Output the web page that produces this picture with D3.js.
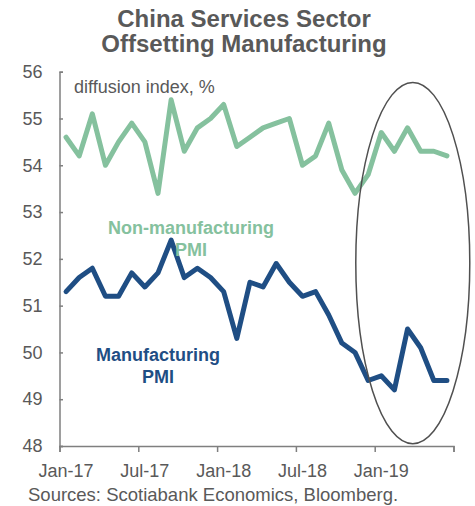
<!DOCTYPE html>
<html>
<head>
<meta charset="utf-8">
<script src="https://cdn.jsdelivr.net/npm/d3@7"></script>
<style>
  html, body { margin: 0; padding: 0; background: #fff; }
  svg { display: block; font-family: "Liberation Sans", Arial, sans-serif; }
</style>
</head>
<body>
<svg id="chart" width="475" height="506"></svg>
<script>
// ---- data ----
const months = [
  "Jan-17","Feb-17","Mar-17","Apr-17","May-17","Jun-17","Jul-17","Aug-17","Sep-17","Oct-17","Nov-17","Dec-17",
  "Jan-18","Feb-18","Mar-18","Apr-18","May-18","Jun-18","Jul-18","Aug-18","Sep-18","Oct-18","Nov-18","Dec-18",
  "Jan-19","Feb-19","Mar-19","Apr-19","May-19","Jun-19"
];
const nonManufacturingPMI = [
  54.6,54.2,55.1,54.0,54.5,54.9,54.5,53.4,55.4,54.3,54.8,55.0,
  55.3,54.4,54.6,54.8,54.9,55.0,54.0,54.2,54.9,53.9,53.4,53.8,
  54.7,54.3,54.8,54.3,54.3,54.2
];
const manufacturingPMI = [
  51.3,51.6,51.8,51.2,51.2,51.7,51.4,51.7,52.4,51.6,51.8,51.6,
  51.3,50.3,51.5,51.4,51.9,51.5,51.2,51.3,50.8,50.2,50.0,49.4,
  49.5,49.2,50.5,50.1,49.4,49.4
];
const xTickLabels = ["Jan-17","Jul-17","Jan-18","Jul-18","Jan-19"];
const yTicks = [48,49,50,51,52,53,54,55,56];
const titleLines = ["China Services Sector","Offsetting Manufacturing"];
const yUnitLabel = "diffusion index, %";
const nonMfgLabel = ["Non-manufacturing","PMI"];
const mfgLabel = ["Manufacturing","PMI"];
const sourceText = "Sources: Scotiabank Economics, Bloomberg.";

// ---- layout ----
const plotLeft = 59.5, plotRight = 453.5, plotTop = 71.7, plotBottom = 446;
const green = "#85c19e", navy = "#1f4e84", gray = "#595959", axisGray = "#7f7f7f";

const svg = d3.select("#chart");

const x = d3.scaleBand().domain(months).range([plotLeft, plotRight]).padding(0);
const xi = d3.scaleLinear().domain([0, months.length]).range([plotLeft, plotRight]);
const y = d3.scaleLinear().domain([48, 56]).range([plotBottom, plotTop]);

// title
svg.append("g").selectAll("text").data(titleLines).join("text")
  .attr("x", 244).attr("y", (d, i) => 26.5 + i * 25)
  .attr("text-anchor", "middle")
  .attr("font-size", 24).attr("font-weight", "bold").attr("fill", gray)
  .text(d => d);

// y axis
const yAxis = svg.append("g").attr("transform", `translate(${plotLeft},0)`)
  .call(d3.axisLeft(y).tickValues(yTicks).tickSize(-3.5).tickPadding(17).tickFormat(d3.format("d")));
yAxis.select(".domain").attr("stroke", axisGray).attr("stroke-width", 1.5);
yAxis.selectAll(".tick line").attr("stroke", axisGray).attr("stroke-width", 1.5);
yAxis.selectAll(".tick text").attr("font-size", 18).attr("fill", gray)
  .attr("font-family", "Liberation Sans, Arial, sans-serif");

// x axis: boundary ticks
const xTickAxis = svg.append("g").attr("transform", `translate(0,${plotBottom})`)
  .call(d3.axisBottom(xi).tickValues(d3.range(0, months.length + 1, 6)).tickSize(6).tickFormat(""));
xTickAxis.select(".domain").attr("stroke", axisGray).attr("stroke-width", 1.5);
xTickAxis.selectAll(".tick line").attr("stroke", axisGray).attr("stroke-width", 1.5);

// x axis labels centered on month bands
const xLabelAxis = svg.append("g").attr("transform", `translate(0,${plotBottom})`)
  .call(d3.axisBottom(x).tickValues(xTickLabels).tickSize(0).tickPadding(18));
xLabelAxis.select(".domain").remove();
xLabelAxis.selectAll(".tick text").attr("font-size", 18).attr("fill", gray)
  .attr("font-family", "Liberation Sans, Arial, sans-serif");

// lines
const line = d3.line()
  .x((d, i) => x(months[i]) + x.bandwidth() / 2)
  .y(d => y(d));

svg.append("path").datum(nonManufacturingPMI)
  .attr("fill", "none").attr("stroke", green).attr("stroke-width", 5)
  .attr("stroke-linejoin", "round").attr("stroke-linecap", "round")
  .attr("d", line);

svg.append("path").datum(manufacturingPMI)
  .attr("fill", "none").attr("stroke", navy).attr("stroke-width", 5)
  .attr("stroke-linejoin", "round").attr("stroke-linecap", "round")
  .attr("d", line);

// unit label
svg.append("text").attr("x", 74).attr("y", 93)
  .attr("font-size", 18).attr("fill", gray).text(yUnitLabel);

// series labels
svg.append("g").selectAll("text").data(nonMfgLabel).join("text")
  .attr("x", 191).attr("y", (d, i) => 234 + i * 22)
  .attr("text-anchor", "middle").attr("font-size", 18).attr("font-weight", "bold")
  .attr("fill", green).text(d => d);

svg.append("g").selectAll("text").data(mfgLabel).join("text")
  .attr("x", 158).attr("y", (d, i) => 361 + i * 22)
  .attr("text-anchor", "middle").attr("font-size", 18).attr("font-weight", "bold")
  .attr("fill", navy).text(d => d);

// highlight ellipse (in data space)
const ell = { cMonth: 26.9, cValue: 51.91, rMonths: 4.34, rValue: 3.86 };
svg.append("ellipse")
  .attr("cx", xi(ell.cMonth))
  .attr("cy", y(ell.cValue))
  .attr("rx", xi(ell.rMonths) - xi(0))
  .attr("ry", y(48) - y(48 + ell.rValue))
  .attr("fill", "none").attr("stroke", "#505050").attr("stroke-width", 1.5);

// source
svg.append("text").attr("x", 28).attr("y", 501)
  .attr("font-size", 18.5).attr("fill", gray).text(sourceText);
</script>
</body>
</html>
